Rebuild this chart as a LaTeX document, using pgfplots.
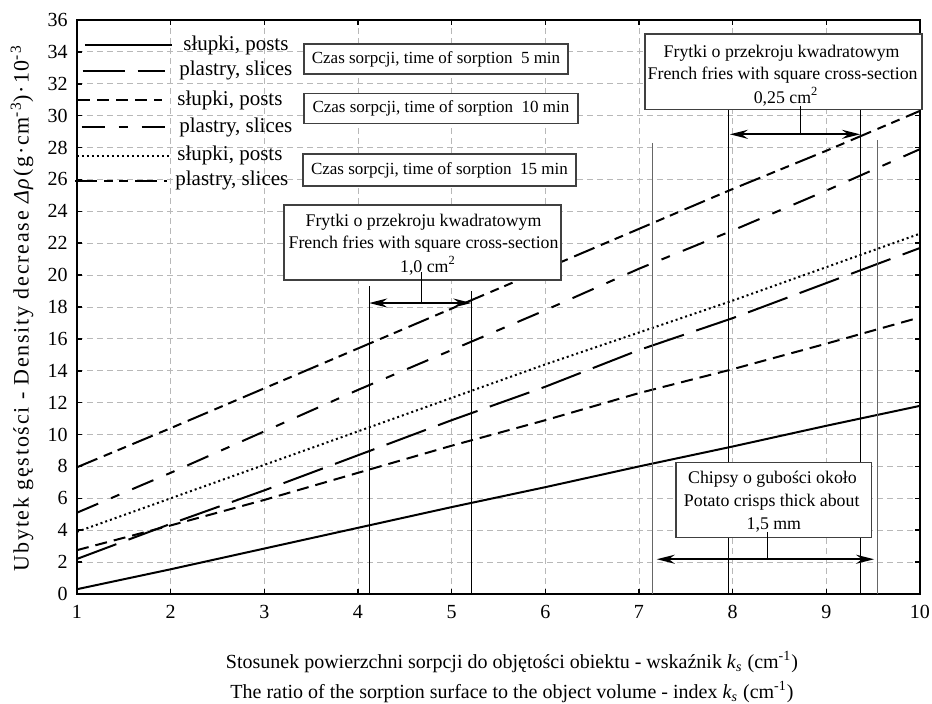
\documentclass[border=0pt]{standalone}
\usepackage{fontspec}
\setmainfont{Liberation Serif}
\usepackage{pgfplots}
\pgfplotsset{compat=1.18}
\usetikzlibrary{arrows.meta}

\pgfplotstableread{
x   s1    s2    s3    s4    s5    s6
1   0.3   2.2   2.75  5.1   3.9   7.95
2   1.55  4.4   4.3   7.6   6.0   10.4
3   2.85  6.5   5.9   10.2  8.1   12.9
4   4.15  8.7   7.6   12.8  10.2  15.4
5   5.45  10.9  9.3   15.3  12.3  17.9
6   6.7   13.0  10.9  17.8  14.4  20.4
7   8.0   15.3  12.6  20.4  16.4  22.9
8   9.25  17.3  14.1  22.8  18.4  25.4
9   10.55 19.5  15.7  25.3  20.5  27.8
10  11.8  21.7  17.35 27.9  22.6  30.3
}\data

\tikzset{
  st1/.style={line width=1pt},
  st2/.style={line width=1pt, dash pattern=on 21pt off 6.5pt},
  st3/.style={line width=1pt, dash pattern=on 6pt off 3.5pt},
  st4/.style={line width=1pt, dash pattern=on 11.5pt off 7pt on 4.5pt off 7pt},
  st5/.style={line width=1pt, dash pattern=on 1pt off 1.5pt},
  st6/.style={line width=1pt, dash pattern=on 11pt off 3.5pt on 4.5pt off 3pt on 4.5pt off 3.5pt},
  bx/.style={draw=black!75, line width=0.7pt, fill=white},
  lt/.style={anchor=west, inner sep=0pt, font=\fontsize{10.5}{12}\selectfont},
  bt/.style={inner sep=0pt, font=\fontsize{8.5}{10}\selectfont},
  bf/.style={inner sep=0pt, font=\fontsize{8.9}{10}\selectfont},
  arr/.style={line width=1pt, {Stealth[length=9pt,width=4.5pt,inset=3pt]}-{Stealth[length=9pt,width=4.5pt,inset=3pt]}},
}

\begin{document}
\begin{tikzpicture}
\path[use as bounding box] (-38.5pt,-55pt) rectangle (427.5pt,297pt);
\begin{axis}[
  at={(0pt,0pt)}, anchor=south west,
  scale only axis, width=421.5pt, height=287pt,
  xmin=1, xmax=10, ymin=0, ymax=36,
  xtick={1,...,10}, ytick={0,2,...,36},
  tick align=inside, major tick length=2.5pt,
  grid=major, grid style={densely dashed, black!28, line width=0.4pt},
  axis line style={line width=0.9pt},
  tick style={line width=0.8pt, black},
  clip=false,
  ticklabel style={font=\fontsize{10}{12}\selectfont},
  /pgf/number format/assume math mode=true,
  xticklabel style={yshift=-2pt},
  yticklabel style={xshift=-1.2pt},
]
\addplot[st1] table[x=x,y=s1] {\data};
\addplot[st2] table[x=x,y=s2] {\data};
\addplot[st3] table[x=x,y=s3] {\data};
\addplot[st4] table[x=x,y=s4] {\data};
\addplot[st5] table[x=x,y=s5] {\data};
\addplot[st6] table[x=x,y=s6] {\data};

% legend
\draw[st1] (axis cs:1.085,34.43) -- (axis cs:2.014,34.43);
\node[lt] at (axis cs:2.132,34.43) {słupki, posts};
\draw[st2] (axis cs:1.061,32.82) -- (axis cs:1.939,32.82);
\node[lt] at (axis cs:2.089,32.82) {plastry, slices};
\draw[st3] (axis cs:1.011,30.98) -- (axis cs:1.907,30.98);
\node[lt] at (axis cs:2.068,30.98) {słupki, posts};
\draw[st4] (axis cs:1.050,29.27) -- (axis cs:1.939,29.27);
\node[lt] at (axis cs:2.089,29.27) {plastry, slices};
\draw[st5] (axis cs:1.0,27.49) -- (axis cs:1.982,27.49);
\node[lt] at (axis cs:2.068,27.49) {słupki, posts};
\draw[st6] (axis cs:0.98,25.92) -- (axis cs:1.961,25.92);
\node[lt] at (axis cs:2.046,25.92) {plastry, slices};

% time boxes
\draw[bx] (axis cs:3.423,34.50) rectangle (axis cs:6.242,32.61);
\node[bt] at (axis cs:4.833,33.55) {Czas sorpcji, time of sorption\ \ 5 min};
\draw[bx] (axis cs:3.423,31.40) rectangle (axis cs:6.349,29.52);
\node[bt] at (axis cs:4.886,30.46) {Czas sorpcji, time of sorption\ \ 10 min};
\draw[bx] (axis cs:3.413,27.60) rectangle (axis cs:6.327,25.59);
\node[bt] at (axis cs:4.870,26.59) {Czas sorpcji, time of sorption\ \ 15 min};

% 1.0 cm2 group
\draw[line width=0.5pt] (axis cs:4.12,19.3) -- (axis cs:4.12,0);
\draw[line width=0.5pt] (axis cs:5.21,19.0) -- (axis cs:5.21,0);
\draw[bx] (axis cs:3.210,24.40) rectangle (axis cs:6.167,19.69);
\node[bf] at (axis cs:4.70,23.33) {Frytki o przekroju kwadratowym};
\node[bf] at (axis cs:4.70,21.95) {French fries with square cross-section};
\node[bf] at (axis cs:4.747,20.57) {1,0 cm\textsuperscript{2}};
\draw[line width=0.5pt] (axis cs:4.678,18.25) -- (axis cs:4.678,20.2);
\draw[arr] (axis cs:4.12,18.25) -- (axis cs:5.21,18.25);

% 0.25 cm2 group and chips verticals
\draw[line width=0.5pt, black!60] (axis cs:7.145,28.29) -- (axis cs:7.145,0);
\draw[line width=0.5pt, black!60] (axis cs:9.55,28.47) -- (axis cs:9.55,0);
\draw[line width=0.5pt] (axis cs:7.96,30.4) -- (axis cs:7.96,0);
\draw[line width=0.5pt] (axis cs:9.37,30.4) -- (axis cs:9.37,0);
\draw[bx] (axis cs:7.064,35.12) rectangle (axis cs:10.021,30.40);
\node[bf] at (axis cs:8.523,33.91) {Frytki o przekroju kwadratowym};
\node[bf] at (axis cs:8.534,32.55) {French fries with square cross-section};
\node[bf] at (axis cs:8.57,31.19) {0,25 cm\textsuperscript{2}};
\draw[line width=0.5pt] (axis cs:8.719,28.83) -- (axis cs:8.719,30.6);
\draw[arr] (axis cs:7.97,28.83) -- (axis cs:9.36,28.83);

% chips box
\draw[bx] (axis cs:7.395,8.26) rectangle (axis cs:9.484,3.53);
\node[bf] at (axis cs:8.425,7.21) {Chipsy o gubości około};
\node[bf] at (axis cs:8.417,5.75) {Potato crisps thick about};
\node[bf] at (axis cs:8.44,4.33) {1,5 mm};
\draw[line width=0.5pt] (axis cs:8.374,2.18) -- (axis cs:8.374,3.89);
\draw[arr] (axis cs:7.19,2.18) -- (axis cs:9.51,2.18);

% axis labels
\node[rotate=90, font=\fontsize{11}{13}\selectfont\addfontfeatures{LetterSpace=8}] at (rel axis cs:-0.0652,0.498)
  {Ubytek gęstości - Density decrease \textit{Δρ}(g·cm\textsuperscript{-3})·10\textsuperscript{-3}};
\node[align=center, font=\fontsize{10}{15}\selectfont] at (rel axis cs:0.516,-0.1446)
  {Stosunek powierzchni sorpcji do objętości obiektu - wskaźnik \textit{k}\textsubscript{\textit{s}} (cm\textsuperscript{-1})\\
   The ratio of the sorption surface to the object volume - index \textit{k}\textsubscript{\textit{s}} (cm\textsuperscript{-1})};
\end{axis}
\end{tikzpicture}
\end{document}
